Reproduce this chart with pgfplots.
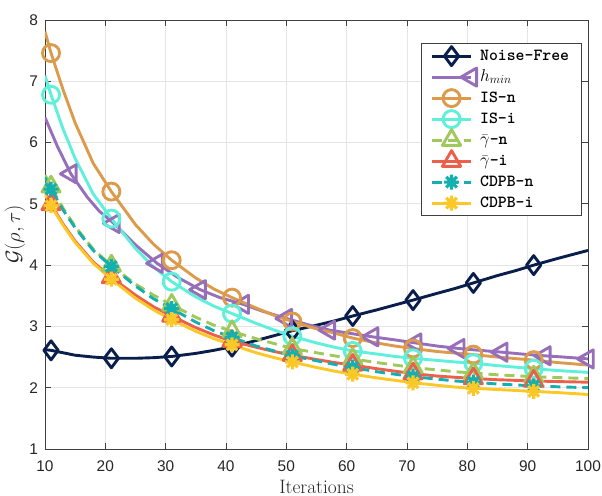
\documentclass[border=0pt]{standalone}
\usepackage{pgfplots}
\pgfplotsset{compat=1.18}
\usepackage{fontspec}
\newfontfamily\ticfont{Liberation Sans}
\definecolor{nf}{RGB}{10,30,75}
\definecolor{hm}{RGB}{150,110,185}
\definecolor{isn}{RGB}{220,155,75}
\definecolor{isi}{RGB}{95,240,220}
\definecolor{gn}{RGB}{160,200,90}
\definecolor{gi}{RGB}{235,95,75}
\definecolor{cn}{RGB}{20,175,175}
\definecolor{ci}{RGB}{252,200,40}
\pgfdeclareplotmark{ast8}{%
 \pgfpathmoveto{\pgfqpoint{0pt}{\pgfplotmarksize}}\pgfpathlineto{\pgfqpoint{0pt}{-\pgfplotmarksize}}%
 \pgfpathmoveto{\pgfqpoint{\pgfplotmarksize}{0pt}}\pgfpathlineto{\pgfqpoint{-\pgfplotmarksize}{0pt}}%
 \pgfpathmoveto{\pgfqpoint{.707\pgfplotmarksize}{.707\pgfplotmarksize}}\pgfpathlineto{\pgfqpoint{-.707\pgfplotmarksize}{-.707\pgfplotmarksize}}%
 \pgfpathmoveto{\pgfqpoint{.707\pgfplotmarksize}{-.707\pgfplotmarksize}}\pgfpathlineto{\pgfqpoint{-.707\pgfplotmarksize}{.707\pgfplotmarksize}}%
 \pgfusepathqstroke}
\begin{document}
\begin{tikzpicture}
\begin{axis}[name=ax, scale only axis, width=543bp, height=429bp,
  xmin=10, xmax=100, ymin=1, ymax=8,
  xtick={10,20,...,100}, ytick={1,2,...,8},
  grid=major, major grid style={draw=black!10, line width=0.7bp},
  axis line style={draw=black!75, line width=0.9bp},
  tick style={draw=black!75, line width=0.9bp},
  tick align=inside, major tick length=6bp,
  tick label style={font=\ticfont\fontsize{15.5}{18}\selectfont, text=black!85},
  /pgf/number format/assume math mode=true,
  xticklabel style={yshift=-8bp},
  yticklabel style={xshift=-3.5bp},
  xlabel={Iterations},
  xlabel style={font=\fontsize{19.5}{22}\selectfont, at={(axis description cs:0.5,-0.0886)}, anchor=center, text=black!85},
  ylabel={$\mathcal{G}(\rho,\tau)$},
  ylabel style={font=\fontsize{19.5}{22}\selectfont, at={(axis description cs:-0.0555,0.5)}, anchor=center, text=black!85},
  every axis plot/.append style={line width=2.9bp, line join=round},
  legend cell align=left,
  legend image code/.code={\draw[mark repeat=2,mark phase=2,#1] plot coordinates {(0cm,0cm) (0.7cm,0cm) (1.4cm,0cm)};},
  legend style={at={(0.989,0.946)}, anchor=north east, draw=black!75, line width=0.9bp, fill=white,
    font=\fontsize{17}{19}\selectfont, inner xsep=9bp, inner ysep=2bp, row sep=0bp,
    nodes={text height=11bp, text depth=3bp, inner sep=3.5bp}},
]
\addplot[nf, mark=diamond, mark size=9.5bp, mark options={solid, line width=2.9bp}, mark indices={2,6,9,12,15,18,21,24,27}] coordinates {
(10,2.62)(11,2.61)(13,2.57)(15,2.53)(18,2.50)(21,2.48)(25,2.48)(28,2.49)(31,2.51)(35,2.56)(38,2.61)(41,2.67)(45,2.77)(48,2.85)(51,2.93)(55,3.02)(58,3.09)(61,3.17)(65,3.27)(68,3.35)(71,3.43)(75,3.54)(78,3.62)(81,3.71)(85,3.83)(88,3.91)(91,4.00)(95,4.11)(100,4.24)};
\addlegendentry{\ttfamily\bfseries Noise-Free}
\addplot[hm, mark=triangle, mark size=10.5bp, mark options={solid, rotate=90, line width=2.9bp}, mark indices={3,6,8,10,12,14,16,18,20,22,24,26,28}] coordinates {
(10,6.41)(12,5.95)(14.29,5.49)(17,5.11)(19,4.88)(21.43,4.68)(25,4.33)(28.57,4.03)(32,3.80)(35.71,3.60)(39,3.47)(42.86,3.36)(46,3.25)(50,3.13)(53.5,3.03)(57.14,2.94)(61,2.88)(64.29,2.83)(68,2.78)(71.43,2.73)(75,2.68)(78.57,2.64)(82,2.61)(85.71,2.58)(89,2.55)(92.86,2.52)(96,2.50)(100,2.47)};
\addlegendentry{$h_{min}$}
\addplot[isn, mark=o, mark size=8.5bp, mark options={solid, line width=2.9bp}, mark indices={2,6,9,12,15,18,21,24,27}] coordinates {
(10,7.81)(11,7.46)(13,6.86)(15,6.32)(18,5.66)(21,5.20)(25,4.66)(28,4.34)(31,4.08)(35,3.79)(38,3.61)(41,3.47)(45,3.30)(48,3.18)(51,3.08)(55,2.96)(58,2.89)(61,2.81)(65,2.73)(68,2.68)(71,2.64)(75,2.59)(78,2.565)(81,2.54)(85,2.50)(88,2.475)(91,2.45)(95,2.41)(100,2.37)};
\addlegendentry{\ttfamily\bfseries IS-n}
\addplot[isi, mark=o, mark size=8.5bp, mark options={solid, line width=2.9bp}, mark indices={2,6,9,12,15,18,21,24,27}] coordinates {
(10,7.09)(11,6.78)(13,6.22)(15,5.74)(18,5.16)(21,4.76)(25,4.27)(28,3.97)(31,3.73)(35,3.48)(38,3.33)(41,3.21)(45,3.05)(48,2.94)(51,2.84)(55,2.73)(58,2.66)(61,2.60)(65,2.55)(68,2.51)(71,2.48)(75,2.445)(78,2.42)(81,2.40)(85,2.36)(88,2.335)(91,2.31)(95,2.28)(100,2.25)};
\addlegendentry{\ttfamily\bfseries IS-i}
\addplot[gn, dash pattern=on 10bp off 6bp, mark=triangle, mark size=10.5bp, mark options={solid, line width=2.9bp}, mark indices={2,6,9,12,15,18,21,24,27}] coordinates {
(10,5.47)(11,5.28)(13,4.93)(15,4.63)(18,4.26)(21,3.99)(25,3.69)(28,3.51)(31,3.35)(35,3.15)(38,3.02)(41,2.92)(45,2.80)(48,2.72)(51,2.64)(55,2.57)(58,2.52)(61,2.47)(65,2.41)(68,2.37)(71,2.33)(75,2.29)(78,2.26)(81,2.24)(85,2.21)(88,2.195)(91,2.18)(95,2.165)(100,2.15)};
\addlegendentry{$\bar{\gamma}$\texttt{\bfseries -n}}
\addplot[gi, mark=triangle, mark size=10.5bp, mark options={solid, line width=2.9bp}, mark indices={2,6,9,12,15,18,21,24,27}] coordinates {
(10,5.17)(11,4.99)(13,4.67)(15,4.39)(18,4.05)(21,3.80)(25,3.51)(28,3.32)(31,3.17)(35,2.98)(38,2.86)(41,2.76)(45,2.66)(48,2.59)(51,2.53)(55,2.46)(58,2.41)(61,2.37)(65,2.31)(68,2.27)(71,2.23)(75,2.19)(78,2.17)(81,2.15)(85,2.13)(88,2.12)(91,2.11)(95,2.10)(100,2.09)};
\addlegendentry{$\bar{\gamma}$\texttt{\bfseries -i}}
\addplot[cn, dash pattern=on 10bp off 6bp, mark=ast8, mark size=7.5bp, mark options={solid, line width=3.2bp}, mark indices={2,6,9,12,15,18,21,24,27}] coordinates {
(10,5.43)(11,5.24)(13,4.90)(15,4.61)(18,4.24)(21,3.98)(25,3.66)(28,3.45)(31,3.29)(35,3.07)(38,2.93)(41,2.82)(45,2.68)(48,2.60)(51,2.52)(55,2.44)(58,2.38)(61,2.33)(65,2.26)(68,2.22)(71,2.18)(75,2.14)(78,2.11)(81,2.09)(85,2.06)(88,2.045)(91,2.03)(95,2.015)(100,2.00)};
\addlegendentry{\ttfamily\bfseries CDPB-n}
\addplot[ci, mark=ast8, mark size=7.5bp, mark options={solid, line width=3.2bp}, mark indices={2,6,9,12,15,18,21,24,27}] coordinates {
(10,5.15)(11,4.97)(13,4.65)(15,4.37)(18,4.03)(21,3.77)(25,3.46)(28,3.27)(31,3.11)(35,2.92)(38,2.80)(41,2.70)(45,2.57)(48,2.49)(51,2.42)(55,2.33)(58,2.27)(61,2.22)(65,2.16)(68,2.12)(71,2.08)(75,2.04)(78,2.01)(81,1.99)(85,1.97)(88,1.955)(91,1.94)(95,1.92)(100,1.89)};
\addlegendentry{\ttfamily\bfseries CDPB-i}
\node[anchor=south west, inner sep=0pt, text=black!85, font=\ticfont\fontsize{14}{16}\selectfont] at (rel axis cs:0,1.006) {×10\raisebox{0.45em}{\fontsize{10}{12}\selectfont −3}};
\end{axis}
\pgfresetboundingbox
\path[use as bounding box] ([shift={(-45bp,-47bp)}]ax.south west) rectangle ([shift={(14bp,20bp)}]ax.north east);
\end{tikzpicture}
\end{document}
